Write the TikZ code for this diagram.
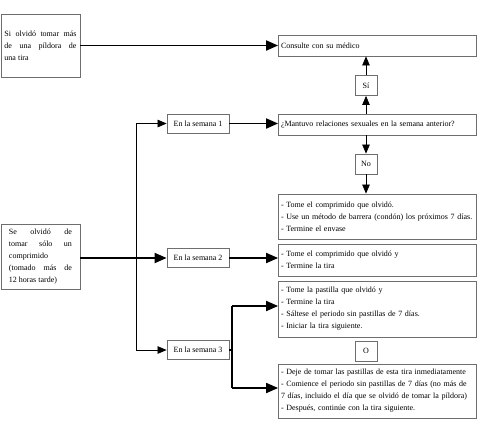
\documentclass[tikz,border=0pt]{standalone}
\usepackage{fontspec}
\setmainfont{Liberation Serif}
\usetikzlibrary{arrows.meta,positioning,calc}
\definecolor{boxline}{HTML}{6E6E6E}
\tikzset{
  flowbox/.style={rectangle, draw=boxline, line width=0.8pt,
    inner sep=2.5pt, font=\fontsize{8}{12}\selectfont},
  infobox/.style={flowbox, minimum width=79pt, align=justify,
    text width=#1},
  resultbox/.style={flowbox, minimum width=197pt, text width=193pt,
    align=left},
  weekbox/.style={flowbox, minimum width=62pt, minimum height=19pt},
  tagbox/.style={flowbox, minimum width=22pt, minimum height=20pt},
  dataarrow/.style={-{Triangle[length=12pt,width=10pt]}, line width=1.8pt},
  thinarrow/.style={-{Triangle[length=9pt,width=7.5pt]}, line width=0.7pt},
}

\begin{document}
\begin{tikzpicture}[x=1pt, y=-1pt]
  \useasboundingbox (0,0) rectangle (500,432);
  % left column
  \node[infobox=72pt, minimum height=63pt] (olvidoMas) at (40.5,45.5)
    {Si olvidó tomar más\linebreak de una píldora de\linebreak una tira};
  \node[infobox=63pt, minimum height=65pt] (olvidoUno) at (40.5,256.5)
    {Se olvidó de\linebreak tomar sólo un\linebreak comprimido\linebreak (tomado más de\linebreak 12 horas tarde)};
  % weeks
  \node[weekbox] (sem1) at (198,123.5) {En la semana 1};
  \node[weekbox] (sem2) at (198,258) {En la semana 2};
  \node[weekbox] (sem3) at (198,350) {En la semana 3};
  % right column
  \node[resultbox, minimum height=21pt] (medico) at (377.5,45.5) {Consulte con su médico};
  \node[tagbox] (si) at (366,85.5) {Sí};
  \node[resultbox, minimum height=21pt] (pregunta) at (377.5,124.5)
    {¿Mantuvo relaciones sexuales en la semana anterior?};
  \node[tagbox] (no) at (366,164) {No};
  \node[resultbox, minimum height=45pt] (res1) at (377.5,216.5)
    {- Tome el comprimido que olvidó.\\
     - Use un método de barrera (condón) los próximos 7 días.\\
     - Termine el envase};
  \node[resultbox, minimum height=32pt] (res2) at (377.5,260)
    {- Tome el comprimido que olvidó y\\
     - Termine la tira};
  \node[resultbox, minimum height=56pt] (res3) at (377.5,309)
    {- Tome la pastilla que olvidó y\\
     - Termine la tira\\
     - Sáltese el periodo sin pastillas de 7 días.\\
     - Iniciar la tira siguiente.};
  \node[tagbox] (o) at (366,351) {O};
  \node[resultbox, minimum height=54pt] (res4) at (377.5,391)
    {- Deje de tomar las pastillas de esta tira inmediatamente\\
     - Comience el periodo sin pastillas de 7 días (no más de\\
     7 días, incluido el día que se olvidó de tomar la píldora)\\
     - Después, continúe con la tira siguiente.};
  % connectors
  \coordinate (rama) at (136,258);
  \coordinate (rama3) at (232,350);
  \draw[dataarrow] (olvidoMas.east) -- (medico.west);
  \draw[dataarrow] (olvidoUno.east |- sem2) -- (sem2.west);
  \draw[line width=0.8pt] (rama |- sem1) -- (rama |- sem3);
  \draw[thinarrow] (rama |- sem1) -- (sem1.west);
  \draw[thinarrow] (rama |- sem3) -- (sem3.west);
  \draw[dataarrow] (sem1.east) -- (sem1.east -| pregunta.west);
  \draw[dataarrow] (sem2.east) -- (sem2.east -| res2.west);
  \draw[thinarrow] (pregunta.north -| si) -- (si.south);
  \draw[thinarrow] (si.north) -- (medico.south -| si);
  \draw[thinarrow] (pregunta.south -| no) -- (no.north);
  \draw[thinarrow] (no.south) -- (res1.north -| no);
  \draw[line width=1.8pt] (sem3.east) -- (rama3);
  \draw[line width=1.8pt] (rama3 |- 0,306) -- (rama3 |- 0,388);
  \draw[dataarrow] (rama3 |- 0,306) -- ([yshift=3pt]res3.west);
  \draw[dataarrow] (rama3 |- 0,388) -- ([yshift=3pt]res4.west);
\end{tikzpicture}
\end{document}
